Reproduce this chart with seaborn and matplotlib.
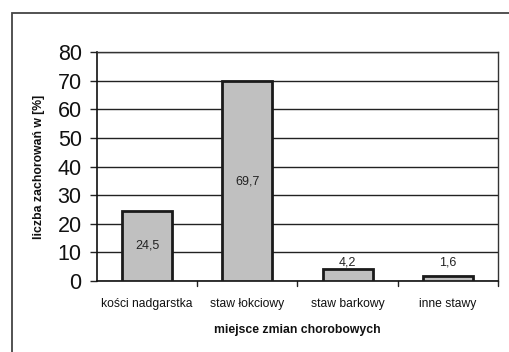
import matplotlib
matplotlib.use("Agg")
import matplotlib.pyplot as plt
import seaborn as sns
import pandas as pd
from matplotlib.patches import Rectangle

categories = ["kości nadgarstka", "staw łokciowy", "staw barkowy", "inne stawy"]
values = [24.5, 69.7, 4.2, 1.6]
value_labels = ["24,5", "69,7", "4,2", "1,6"]
y_ticks = [0, 10, 20, 30, 40, 50, 60, 70, 80]

sns.set_theme(style="white")
plt.rcParams["font.family"] = ["Liberation Sans", "DejaVu Sans"]

df = pd.DataFrame({"miejsce": categories, "procent": values})

fig = plt.figure(figsize=(5.10, 3.52), dpi=100)
W, H = 510, 352
ax = fig.add_axes([97 / W, 1 - 281 / H, (498 - 97) / W, (281 - 52) / H])

sns.barplot(data=df, x="miejsce", y="procent", ax=ax, color="#C0C0C0",
            edgecolor="#1a1a1a", linewidth=2.0, width=0.5, saturation=1, zorder=3)

ax.set_ylim(0, 80)
ax.set_xlim(-0.5, len(categories) - 0.5)
ax.set_yticks(y_ticks)
ax.yaxis.grid(True, color="#222222", linewidth=1.0, zorder=0)
ax.set_axisbelow(True)
ax.tick_params(axis="y", labelsize=15.5, length=5, width=1, color="#222222",
               direction="out", left=True, pad=6, labelcolor="#111111")
ax.set_yticklabels([str(t) for t in y_ticks])

# category ticks sit between the bars
ax.set_xticks(range(len(categories)))
ax.set_xticklabels(categories, fontsize=8.7, color="#111111")
ax.tick_params(axis="x", length=0, pad=12)
for b in [0.5, 1.5, 2.5, 3.5]:
    ax.plot([b, b], [0, -1.6], color="#222222", lw=1, clip_on=False)

for side in ["left", "bottom"]:
    ax.spines[side].set_color("#111111")
    ax.spines[side].set_linewidth(1.2)
for side in ["top", "right"]:
    ax.spines[side].set_color("#333333")
    ax.spines[side].set_linewidth(1.0)

for i, (v, lab) in enumerate(zip(values, value_labels)):
    if v > 15:
        ax.text(i, v / 2, lab, ha="center", va="center", fontsize=9, color="#222222", zorder=4)
    else:
        ax.text(i, max(v, 4.2) + 0.3, lab, ha="center", va="bottom", fontsize=9, color="#222222", zorder=4)

ax.set_xlabel("miejsce zmian chorobowych", fontsize=8.8, fontweight="bold", labelpad=10, color="#111111")
ax.set_ylabel("liczba zachorowań w [%]", fontsize=8.8, fontweight="bold", labelpad=9, color="#111111")

# outer chart frame
fig.patches.append(Rectangle((12 / W, -0.05), 1.0, 1 - 13 / H + 0.05,
                             transform=fig.transFigure, fill=False,
                             edgecolor="#444444", linewidth=1.3))

fig.savefig("out.png", dpi=100, facecolor="white")
